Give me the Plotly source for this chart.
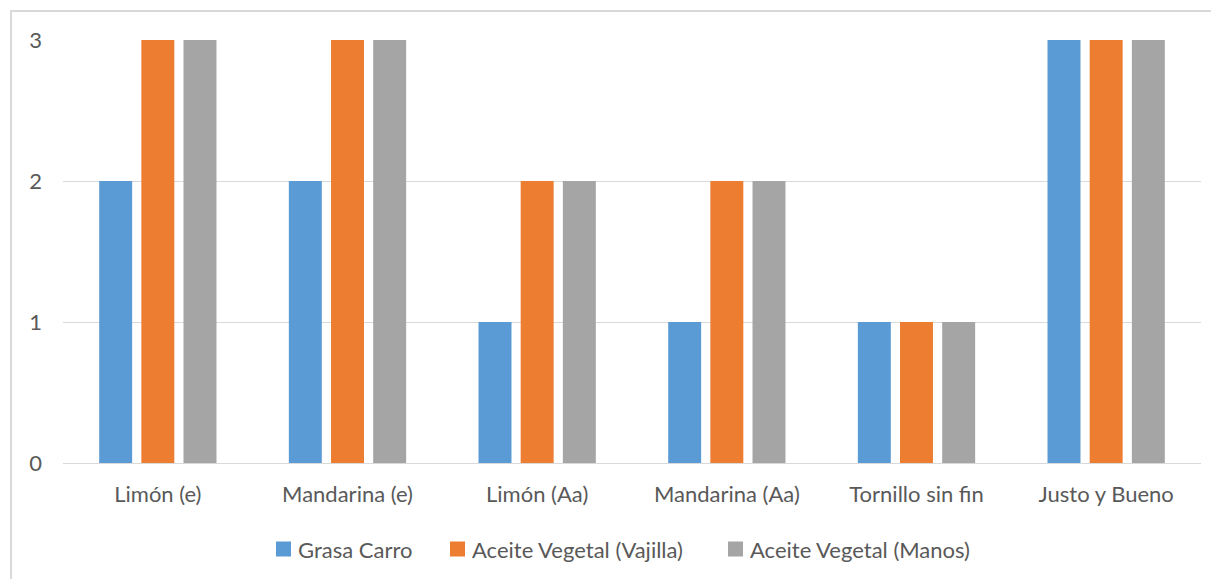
import plotly.graph_objects as go

categories = ["Limón (e)", "Mandarina (e)", "Limón (Aa)", "Mandarina (Aa)", "Tornillo sin fin", "Justo y Bueno"]
grasa_carro = [2, 2, 1, 1, 1, 3]
aceite_vajilla = [3, 3, 2, 2, 1, 3]
aceite_manos = [3, 3, 2, 2, 1, 3]
series_names = ["Grasa Carro", "Aceite Vegetal (Vajilla)", "Aceite Vegetal (Manos)"]
series_colors = ["#5B9BD5", "#ED7D31", "#A5A5A5"]
series_values = [grasa_carro, aceite_vajilla, aceite_manos]

fig = go.Figure()
for name, vals, col in zip(series_names, series_values, series_colors):
    fig.add_trace(go.Bar(x=categories, y=vals, name=name, showlegend=False,
                         marker=dict(color=col, line=dict(width=0))))

# page body has an 8px margin; figure coordinates = screen - 8
OFF = 8
W, H = 1211, 571
L, T = 63 - OFF, 40 - OFF
R = W - (1201 - OFF)
B = H - (463 - OFF)
pw, ph = W - L - R, H - T - B

def px2x(px):
    return (px - OFF - L) / pw

def px2y(py):
    return (H - B - (py - OFF)) / ph

font = "Lato, Calibri, sans-serif"
fs = 22
grey = "#595959"

shapes = [dict(type="rect", xref="paper", yref="paper",
               x0=px2x(11), x1=px2x(1240), y0=px2y(600), y1=px2y(11),
               line=dict(color="#d9d9d9", width=2), fillcolor="rgba(0,0,0,0)", layer="below")]
annotations = []
# legend (drawn manually to match the spacing of the original)
legend_sq_left = [276, 450, 728]
for name, col, sx in zip(series_names, series_colors, legend_sq_left):
    shapes.append(dict(type="rect", xref="paper", yref="paper",
                       x0=px2x(sx), x1=px2x(sx + 15), y0=px2y(556.5), y1=px2y(541.5),
                       line=dict(width=0), fillcolor=col))
    annotations.append(dict(xref="paper", yref="paper", x=px2x(sx + 20), y=px2y(549),
                            xanchor="left", yanchor="middle", showarrow=False, text=name,
                            font=dict(family=font, size=fs, color=grey)))

fig.update_layout(
    width=W, height=H,
    margin=dict(l=L, r=R, t=T, b=B),
    paper_bgcolor="white", plot_bgcolor="white",
    barmode="group", bargap=0.333, bargroupgap=0.218,
    font=dict(family=font, size=fs, color=grey),
    showlegend=False,
    xaxis=dict(showgrid=False, showline=True, linecolor="#d9d9d9", linewidth=1,
               ticks="", ticklabelstandoff=12, tickfont=dict(size=fs)),
    yaxis=dict(range=[0, 3], tickvals=[0, 1, 2, 3], showgrid=True, gridcolor="#d9d9d9",
               gridwidth=1, zeroline=False, showline=False, ticks="",
               ticklabelstandoff=20, tickfont=dict(size=fs)),
    shapes=shapes,
    annotations=annotations,
)

fig.write_html("out.html")
